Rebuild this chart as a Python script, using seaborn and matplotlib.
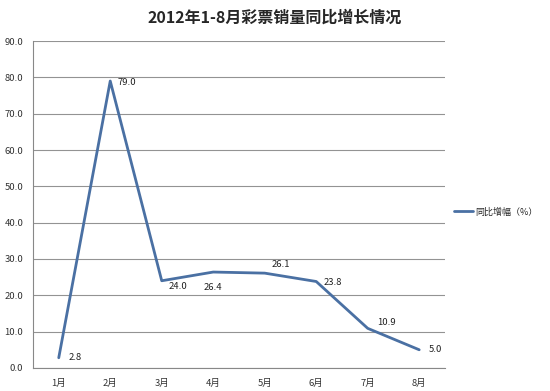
import matplotlib
matplotlib.use('Agg')
import numpy as np
import pandas as pd
import matplotlib.pyplot as plt
import seaborn as sns

months = ['1月', '2月', '3月', '4月', '5月', '6月', '7月', '8月']
growth = [2.8, 79.0, 24.0, 26.4, 26.1, 23.8, 10.9, 5.0]
# label offsets in points (dx, dy) so the numbers sit where the original put them
label_offsets = [(7, 0), (5, -1), (5, -4), (0, -11), (5, 6), (5, -1), (7, 4), (7, 0)]

sns.set_style("white")
plt.rcParams['font.family'] = ['Noto Sans CJK SC', 'DejaVu Sans']

df = pd.DataFrame({'idx': np.arange(len(months)), 'val': growth})

fig = plt.figure(figsize=(5.5, 3.91), dpi=100)
ax = fig.add_axes([0.06, 0.059, 0.749, 0.836])

sns.lineplot(data=df, x='idx', y='val', ax=ax, color='#4a70a3', linewidth=2,
             label='同比增幅（%）')

for i, (v, off) in enumerate(zip(growth, label_offsets)):
    ha = 'left' if off[0] > 0 else 'center'
    ax.annotate(f'{v:.1f}', (i, v), xytext=off, textcoords='offset points',
                fontsize=6.8, ha=ha, va='center', color='#222222')

ax.set_xlim(-0.5, len(months) - 0.5)
ax.set_ylim(0, 90)
ax.set_yticks(np.arange(0, 91, 10))
ax.set_yticklabels([f'{t:.1f}' for t in np.arange(0, 91, 10)], fontsize=6.8, color='#333333')
ax.set_xticks(np.arange(len(months)))
ax.set_xticklabels(months, fontsize=6.8, color='#333333')
ax.set_xticks(np.arange(-0.5, len(months)), minor=True)
ax.tick_params(axis='x', which='major', length=0, pad=8)
ax.tick_params(axis='x', which='minor', length=4, direction='out', color='#888888', width=0.8)
ax.tick_params(axis='y', length=4, direction='out', color='#888888', width=0.8, pad=3)
ax.grid(axis='y', color='#939393', linewidth=0.8)
ax.set_axisbelow(True)
ax.set_xlabel('')
ax.set_ylabel('')

for s in ['top', 'right']:
    ax.spines[s].set_visible(False)
for s in ['left', 'bottom']:
    ax.spines[s].set_color('#888888')
    ax.spines[s].set_linewidth(0.8)

leg = ax.legend(loc='center left', bbox_to_anchor=(1.01, 0.477), frameon=False,
                fontsize=6.5, handlelength=2.0, handletextpad=0.3,
                borderaxespad=0.2)

fig.text(0.5, 0.955, '2012年1-8月彩票销量同比增长情况', ha='center', va='center',
         fontsize=11.5, fontweight='bold')

fig.savefig('out.png', dpi=100)
